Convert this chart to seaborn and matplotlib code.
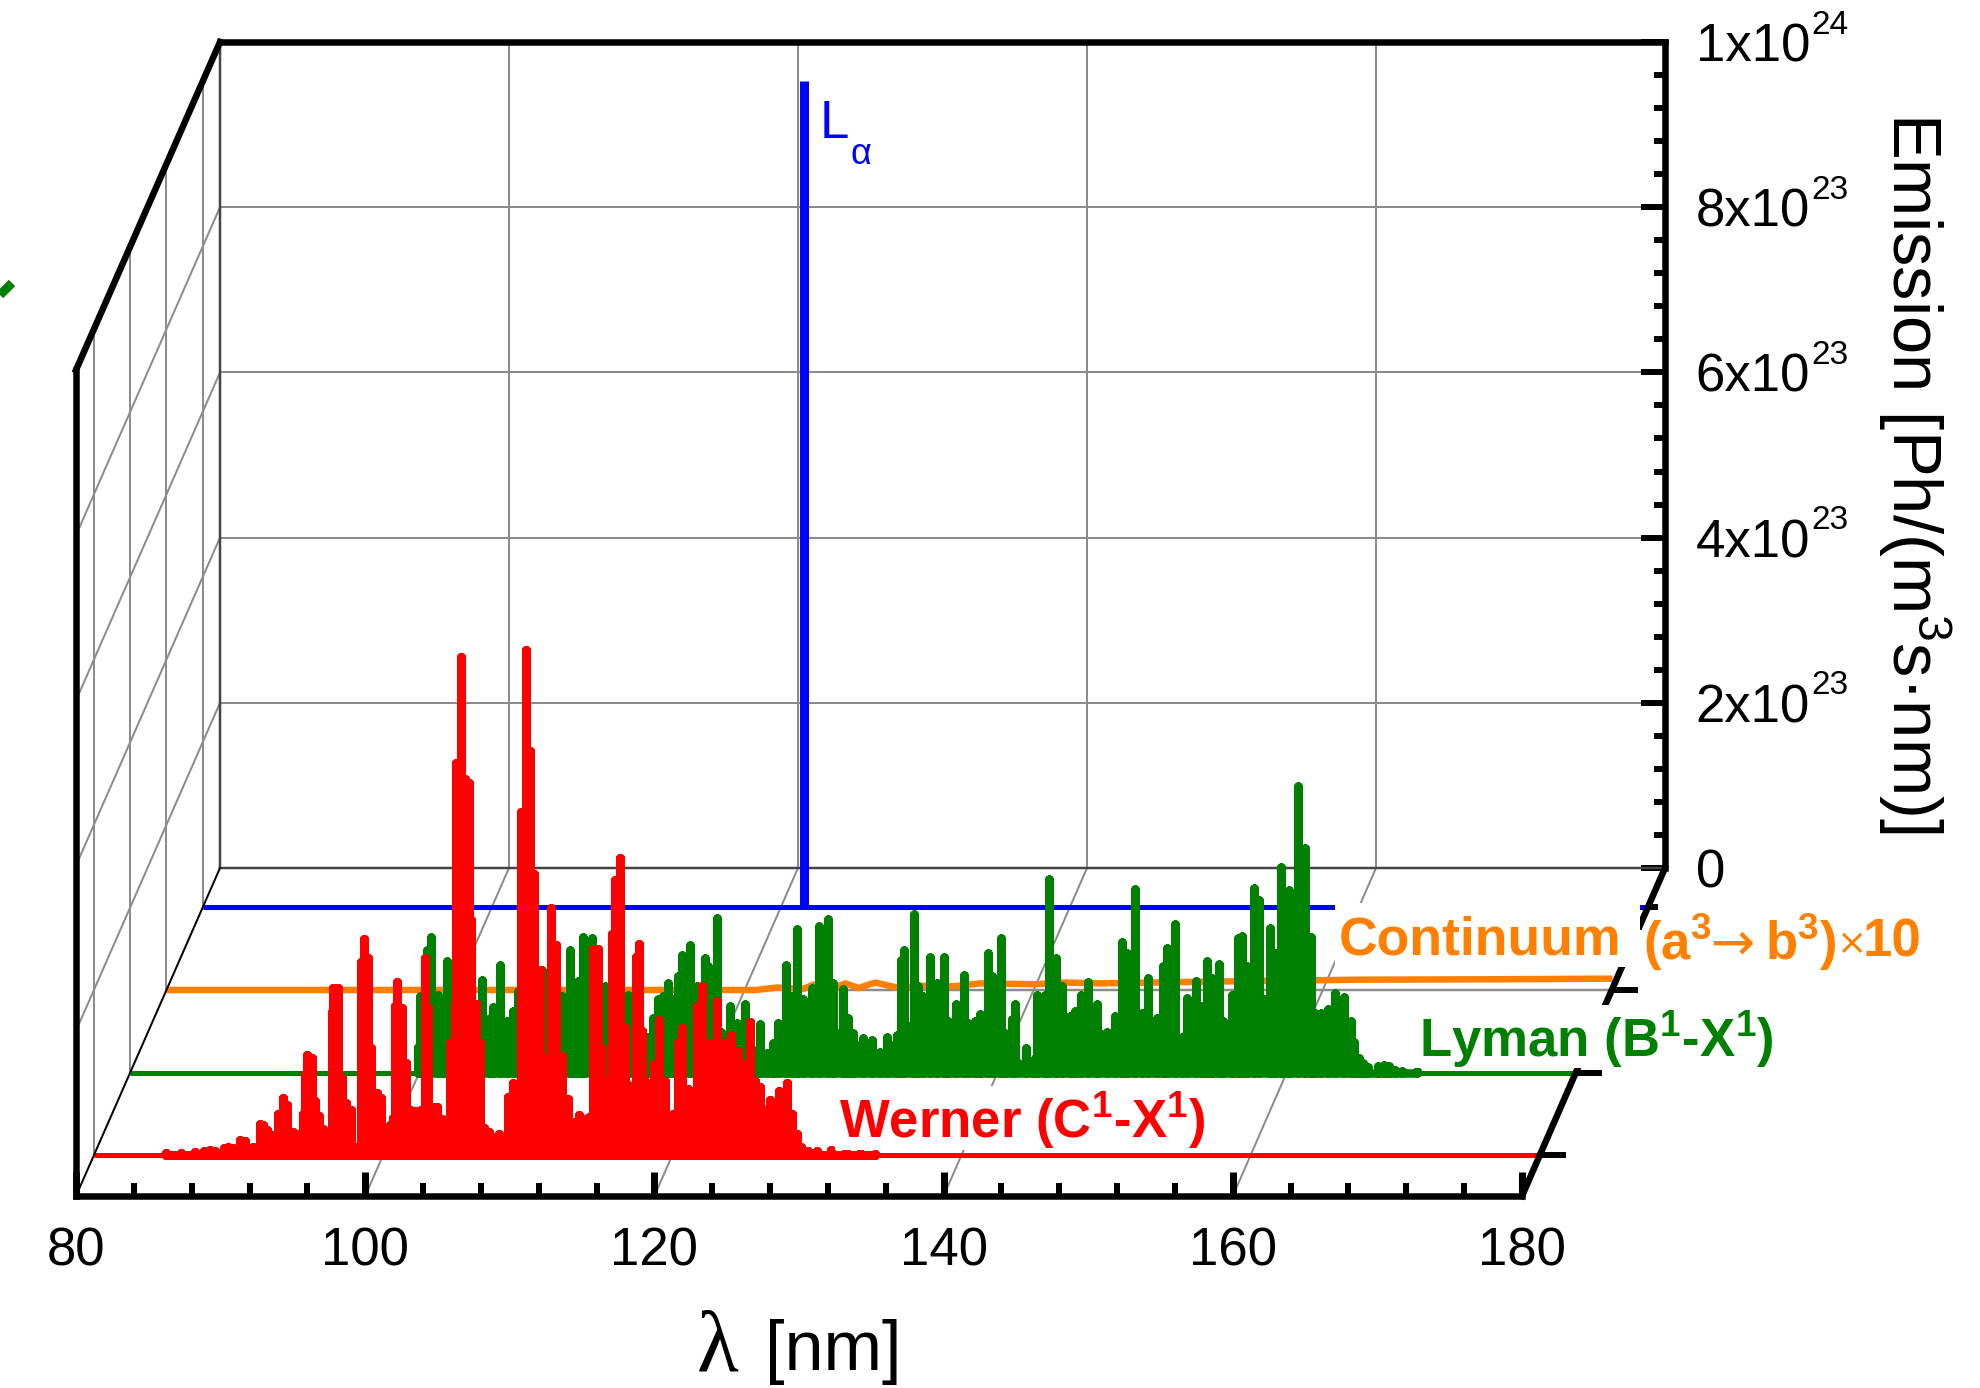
import numpy as np
import matplotlib
matplotlib.use('Agg')
import matplotlib.pyplot as plt
from matplotlib.patches import Rectangle
from matplotlib.ticker import MultipleLocator
import seaborn as sns

# data: wavelength [nm], emission [1e23 Ph/(m3 s nm)]
werner_wl = [85, 86, 87, 87.6, 88.0, 88.4, 89.0, 89.3, 89.6, 90.09, 90.44, 91.0, 91.48, 91.7, 91.94, 92.4, 92.74, 93.04,
             93.37, 93.78, 94.13, 94.47, 94.59, 94.7, 95.05, 95.28, 95.58, 95.86, 96.43, 96.55, 96.89, 97.12, 97.42, 97.75,
             98.04, 98.46, 98.67, 98.97, 99.13, 99.54, 99.82, 100.24, 100.47, 100.7, 100.81, 100.97, 101.27, 101.55, 101.85,
             102.2, 102.6, 102.89, 103.12, 103.46, 103.69, 104.1, 104.38, 104.6, 104.96, 105.06, 105.37, 105.65, 105.9, 106.1,
             106.4, 106.7, 107.0, 107.3, 107.55, 108.0, 108.25, 108.65, 108.98, 109.2, 109.55, 109.9, 110.16, 110.43, 110.83,
             111.16, 111.63, 111.97, 112.37, 112.77, 113.17, 113.51, 113.84, 114.18, 114.5, 114.85, 115.1, 115.35, 115.85,
             116.02, 116.36, 116.7, 116.96, 117.2, 117.46, 117.7, 117.87, 118.1, 118.37, 118.7, 119.1, 119.5, 119.8, 120.05,
             120.4, 120.65, 121.05, 121.4, 121.7, 122.06, 122.3, 122.7, 123.06, 123.4, 123.7, 124.07, 124.57, 124.97, 125.4,
             125.7, 126.08, 126.4, 126.75, 127.1, 127.35, 127.9, 128.26, 128.6, 128.9, 129.4, 130, 131, 132, 133, 134]
werner_h = [0.02, 0.03, 0.04, 0.05, 0.06, 0.05, 0.08, 0.1, 0.09, 0.18, 0.17, 0.1, 0.38, 0.36, 0.3, 0.24, 0.5, 0.69,
            0.6, 0.28, 0.26, 0.5, 0.98, 1.21, 1.18, 0.65, 0.47, 0.32, 1.73, 2.02, 2.02, 0.93, 0.63, 0.55,
            0.1, 2.34, 2.62, 2.38, 1.29, 0.75, 0.69, 0.15, 0.36, 0.45, 1.8, 2.1, 1.78, 1.11, 0.54,
            0.53, 0.55, 2.38, 1.78, 0.58, 0.58, 0.44, 0.34, 1.36, 1.83, 4.75, 6.03, 4.55, 4.5, 2.84,
            1.83, 1.36, 0.33, 0.28, 0.22, 0.25, 0.2, 0.7, 0.87, 0.7, 4.15, 6.11, 4.89, 3.4, 2.24,
            1.17, 2.99, 2.54, 1.2, 0.68, 0.4, 0.48, 0.3, 0.25, 2.5, 2.5, 1.3, 0.9, 2.68,
            3.33, 3.6, 1.54, 0.85, 0.65, 2.4, 2.56, 1.5, 0.9, 0.8, 1.1, 1.63, 0.9, 0.3, 0.5,
            1.35, 1.54, 0.8, 0.6, 1.8, 2.05, 1.0, 1.35, 1.86, 0.9, 1.35, 1.45, 1.26, 1.1, 1.61,
            0.9, 0.82, 0.55, 0.66, 0.55, 0.77, 0.87, 0.5, 0.26, 0.1, 0.05, 0.05, 0.06, 0.04, 0.02, 0.01]
werner_floor_wl = [100.5, 102, 104, 106, 107, 108, 109, 111, 113, 115, 117, 119, 120, 122, 124, 126, 127, 128.5]
werner_floor = [0.2, 0.45, 0.3, 0.5, 0.2, 0.1, 0.4, 0.9, 0.4, 0.6, 0.7, 0.7, 0.45, 0.6, 0.8, 0.6, 0.6, 0.3]

lyman_wl = [99.94, 100.05, 100.51, 100.81, 101.32, 101.66, 101.94, 102.36, 103.97, 104.31, 104.89, 105.12, 105.58, 106.04,
            106.5, 106.85, 108.47, 109.85, 110.43, 110.78, 111.0, 111.35, 111.93, 112.85, 114.47, 115.73, 116.19, 116.54,
            116.89, 117.23, 117.58, 117.92, 118.15, 118.73, 119.19, 119.77, 120.0, 120.57, 120.9, 121.5, 121.96, 122.53,
            123.57, 124.03, 124.49, 124.84, 125.36, 125.76, 126.15, 126.56, 127.19, 127.65, 128.29, 128.64, 129.33, 129.68,
            130.0, 130.7, 131.29, 131.87, 132.33, 133.02, 133.3, 133.55, 134.22, 134.52, 134.86, 135.32, 135.78, 136.29,
            136.59, 137.1, 137.7, 137.97, 138.44, 138.78, 139.36, 139.63, 140.23, 140.51, 140.97, 141.2, 141.97, 142.48,
            142.75, 143.28, 143.58, 144.04, 144.43, 145.0, 145.36, 145.77, 146.23, 146.86, 147.55, 148.12, 148.63, 148.93,
            149.48, 149.97, 150.43, 151.0, 151.47, 151.74, 152.3, 152.73, 153.13, 153.72, 154.12, 154.46, 154.81, 155.31,
            155.57, 156.19, 156.65, 156.93, 157.27, 157.71, 158.1, 158.87, 159.19, 159.58, 160.18, 160.74, 161.26, 161.68,
            161.95, 162.35, 162.83, 163.34, 163.98, 164.42, 164.65, 165.0, 165.3, 165.6, 166.3, 166.7, 167.1, 167.5, 168, 169]
lyman_h = [0.32, 0.93, 1.49, 1.65, 0.95, 0.89, 1.35, 1.0, 0.8, 1.13, 0.67, 0.8, 1.31, 0.63,
           0.75, 0.99, 1.25, 0.93, 1.49, 0.67, 1.11, 1.65, 1.63, 1.05, 0.95, 0.44, 0.67, 0.89,
           0.93, 1.09, 0.89, 1.17, 1.43, 1.55, 1.05, 1.39, 1.29, 1.88, 0.5, 0.81, 0.6, 0.83,
           0.59, 0.24, 0.36, 0.6, 1.31, 0.93, 1.74, 0.89, 1.03, 1.78, 1.86, 1.09, 1.02, 0.67,
           0.48, 0.42, 0.4, 0.26, 0.44, 0.46, 1.37, 1.49, 1.93, 1.05, 0.93, 1.41, 1.09, 1.41,
           0.63, 0.83, 1.19, 0.61, 0.63, 0.71, 1.45, 1.17, 1.63, 0.48, 0.65, 0.83, 0.3, 0.12,
           0.95, 0.95, 2.35, 1.39, 1.05, 0.69, 0.75, 0.95, 1.1, 0.83, 0.5, 0.69, 1.59, 1.45,
           2.23, 0.73, 1.15, 0.67, 1.29, 1.51, 1.8, 0.44, 0.91, 1.11, 0.81, 1.35, 1.15, 1.32,
           0.63, 0.95, 1.63, 1.66, 1.29, 2.24, 2.1, 1.76, 1.45, 2.49, 2.22, 3.47, 2.72, 1.65,
           0.73, 0.73, 0.77, 0.97, 0.92, 0.63, 0.38, 0.18, 0.12, 0.07, 0.08, 0.1, 0.08, 0.04, 0.03, 0.02]
lyman_floor_wl = [100, 102, 104, 106, 108, 110, 112, 114, 116, 118, 120, 122, 124, 126, 128, 130, 132, 134, 136, 138,
                  140, 142, 144, 146, 148, 150, 152, 154, 156, 158, 160, 162, 164, 165]
lyman_floor = [0.3, 0.55, 0.6, 0.55, 0.55, 0.55, 0.55, 0.4, 0.35, 0.55, 0.55, 0.45, 0.25, 0.6, 0.65, 0.42, 0.25, 0.65, 0.65,
               0.5, 0.35, 0.12, 0.65, 0.65, 0.45, 0.55, 0.4, 0.65, 0.65, 0.95, 0.95, 0.6, 0.55, 0.12]

cont_wl = [80, 100, 120.8, 122.2, 123.4, 124.0, 124.76, 125.7, 126.1, 126.96, 127.87, 129.02, 130.52, 132.13, 134.44, 136.28,
           139.97, 142.27, 144.6, 151.5, 156.1, 162.5, 172, 180]
cont_h = [0, 0, 0, 0.03, 0.02, 0.012, 0.065, 0.05, 0.024, 0.08, 0.024, 0.09, 0.03, 0.05, 0.045, 0.08,
          0.07, 0.09, 0.08, 0.1, 0.11, 0.125, 0.13, 0.137]

lyman_alpha_wl = [121.6, 121.6]
lyman_alpha_h = [0, 10]
span_wl = [80, 180]
span_h = [0, 0]

x_ticks = [80, 100, 120, 140, 160, 180]
y_ticks = [0, 2e23, 4e23, 6e23, 8e23, 1e24]
y_labels = ['0', '2x10', '4x10', '6x10', '8x10', '1x10']
y_exponents = ['', '23', '23', '23', '23', '24']

RED, GREEN, BLUE, ORANGE = '#FF0000', '#008000', '#0000FF', '#FF8000'

sns.set_theme(style='white')
plt.rcParams['font.family'] = ['Liberation Sans', 'DejaVu Sans']
plt.rcParams['mathtext.fontset'] = 'custom'
plt.rcParams['mathtext.rm'] = 'Liberation Sans'
plt.rcParams['mathtext.it'] = 'Liberation Sans'
plt.rcParams['mathtext.bf'] = 'Liberation Sans:bold'

W, H = 1981, 1388
PX = 0.72  # points per pixel at dpi 100
fig = plt.figure(figsize=(W / 100, H / 100), dpi=100, facecolor='white')

# corners of the box in pixels
FL, FR, BL, BR = 76, 1522, 220, 1665
FY, BY, TY = 1196, 868, 42
WALL_H = BY - TY
LAYER_Y = {'blue': 907, 'orange': 990, 'green': 1073, 'red': 1155}


def depth_x(y):
    return FL + (FY - y) * (BL - FL) / (FY - BY)


def pixel_axes(zorder):
    ax = fig.add_axes([0, 0, 1, 1], zorder=zorder)
    ax.set_xlim(0, W)
    ax.set_ylim(H, 0)
    ax.axis('off')
    ax.patch.set_alpha(0)
    return ax


def layer_axes(y_base, zorder):
    x0 = depth_x(y_base)
    ax = fig.add_axes([x0 / W, 1 - y_base / H, (FR - FL) / W, WALL_H / H], zorder=zorder)
    ax.set_xlim(80, 180)
    ax.set_ylim(0, 10)
    ax.axis('off')
    ax.patch.set_alpha(0)
    return ax


def draw(ax, x, y, color, lw, cap='round'):
    sns.lineplot(x=x, y=y, estimator=None, sort=False, color=color, linewidth=lw * PX, ax=ax, legend=False)
    line = ax.lines[-1]
    line.set_clip_on(False)
    line.set_solid_capstyle(cap)
    line.set_solid_joinstyle('round')


def spikes(wl, h):
    # every line goes up from the baseline and back
    xs = np.repeat(wl, 3)
    ys = np.repeat(h, 3)
    ys[0::3] = 0
    ys[2::3] = 0
    return xs, ys


# floor and left wall grid
bg = pixel_axes(0)
GRID = '#8c8c8c'
for wl in x_ticks[1:-1]:
    frac = (wl - 80) / 100
    bg.plot([FL + frac * (FR - FL), BL + frac * (BR - BL)], [FY, BY], color=GRID, lw=2 * PX)
for y in LAYER_Y.values():
    x = depth_x(y)
    bg.plot([x, x + (FR - FL)], [y, y], color=GRID, lw=2.5 * PX)
    bg.plot([x, x], [y, y - WALL_H], color=GRID, lw=2 * PX)
for k in range(1, 5):
    bg.plot([FL, BL], [FY - k * WALL_H / 5, BY - k * WALL_H / 5], color=GRID, lw=2 * PX)

# back wall, carries the emission axis
wall = fig.add_axes([BL / W, 1 - BY / H, (BR - BL) / W, WALL_H / H], zorder=1)
wall.patch.set_alpha(0)
wall.set_xlim(80, 180)
wall.set_ylim(0, 1e24)
wall.set_xticks(x_ticks)
wall.set_yticks(y_ticks)
wall.set_yticklabels(y_labels)
wall.yaxis.set_minor_locator(MultipleLocator(4e22))
wall.yaxis.tick_right()
wall.tick_params(axis='x', length=0, labelbottom=False)
wall.tick_params(axis='y', which='major', direction='in', length=24 * PX, width=6 * PX, color='black',
                 labelsize=38, pad=22, labelcolor='black')
wall.tick_params(axis='y', which='minor', direction='in', length=11 * PX, width=6 * PX, color='black')
wall.grid(True, axis='both', which='major', color=GRID, lw=2 * PX)
for name, sp in wall.spines.items():
    sp.set_color('black' if name in ('top', 'right') else '#444444')
    sp.set_linewidth(6.5 * PX if name in ('top', 'right') else 2.5 * PX)

# spectra, back to front
ax_blue = layer_axes(LAYER_Y['blue'], 2)
draw(ax_blue, span_wl, span_h, BLUE, 5, cap='butt')
draw(ax_blue, lyman_alpha_wl, lyman_alpha_h, BLUE, 9, cap='butt')

ax_orange = layer_axes(LAYER_Y['orange'], 3)
draw(ax_orange, cont_wl, cont_h, ORANGE, 6.5, cap='butt')

ax_green = layer_axes(LAYER_Y['green'], 4)
draw(ax_green, span_wl, span_h, GREEN, 5, cap='butt')
ax_green.fill_between(lyman_floor_wl, 0, lyman_floor, color=GREEN, lw=0, clip_on=False)
draw(ax_green, *spikes(lyman_wl, lyman_h), GREEN, 8.5)

ax_red = layer_axes(LAYER_Y['red'], 5)
draw(ax_red, span_wl, span_h, RED, 5, cap='butt')
ax_red.fill_between(werner_floor_wl, 0, werner_floor, color=RED, lw=0, clip_on=False)
draw(ax_red, *spikes(werner_wl, werner_h), RED, 9)

# front axis with the wavelength ticks
front = fig.add_axes([FL / W, 1 - FY / H, (FR - FL) / W, WALL_H / H], zorder=6)
front.patch.set_alpha(0)
front.set_xlim(80, 180)
front.set_ylim(0, 1)
front.set_xticks(x_ticks)
front.xaxis.set_minor_locator(MultipleLocator(4))
front.set_yticks([])
front.tick_params(axis='x', which='major', direction='in', length=24 * PX, width=7 * PX, color='black',
                  labelsize=38, pad=22, labelcolor='black', bottom=True)
front.tick_params(axis='x', which='minor', direction='in', length=13 * PX, width=6 * PX, color='black', bottom=True)
for name, sp in front.spines.items():
    sp.set_visible(name in ('bottom', 'left'))
    sp.set_color('black')
    sp.set_linewidth(6.5 * PX)

# box edges, small ticks and labels
top = pixel_axes(7)
top.plot([FL, BL], [FY - WALL_H, TY], color='black', lw=6.5 * PX, solid_capstyle='projecting')
top.plot([FL, BL], [FY, BY], color='black', lw=2 * PX)
top.plot([FR, BR], [FY, BY], color='black', lw=6.5 * PX, solid_capstyle='projecting')
for key, length in (('orange', 26), ('green', 26), ('red', 26), ('blue', 9)):
    y = LAYER_Y[key]
    x = depth_x(y) + (FR - FL)
    top.plot([x, x + length], [y, y], color='black', lw=6 * PX, solid_capstyle='butt')
top.plot([0, 12], [295, 283], color=GREEN, lw=9 * PX, solid_capstyle='butt')

for tick, exponent in zip(y_ticks, y_exponents):
    if exponent:
        top.text(1811, BY - tick / 1e24 * WALL_H - 17, exponent, fontsize=24, va='center', ha='left', color='black')

# white boxes behind the labels hide what runs under them
for x0, y0, x1, y1 in ((1335, 903, 1640, 967), (1640, 930, 1925, 968), (1415, 1005, 1780, 1068), (835, 1086, 1215, 1150)):
    top.add_patch(Rectangle((x0, y0), x1 - x0, y1 - y0, facecolor='white', edgecolor='none', zorder=2.5))

bold = dict(fontsize=38, fontweight='bold', va='center', ha='left', zorder=3)
top.text(1339, 940, 'Continuum', color=ORANGE, **{**bold, 'fontsize': 38.5})
top.text(1643, 942, r'(a$^{\mathbf{3}}$', color=ORANGE, **bold)
top.text(1711, 944, '→', color=ORANGE, family='DejaVu Sans', fontsize=38, va='center', ha='left', zorder=3)
top.text(1765, 942, r'b$^{\mathbf{3}}$)', color=ORANGE, **bold)
top.text(1836, 944, '×', color=ORANGE, family='DejaVu Sans', fontsize=26, va='center', ha='left', zorder=3)
top.text(1863, 942, '10', color=ORANGE, **bold)
top.text(1419, 1040, r'Lyman (B$^{\mathbf{1}}$-X$^{\mathbf{1}}$)', color=GREEN, **bold)
top.text(839, 1121, r'Werner (C$^{\mathbf{1}}$-X$^{\mathbf{1}}$)', color=RED, **bold)
top.text(820, 124, 'L', color=BLUE, fontsize=38, va='center', ha='left')
top.text(851, 154, 'α', color=BLUE, fontsize=26, va='center', ha='left')
top.text(1914, 473, 'Emission [Ph/(m$^{3}$s·nm)]', fontsize=49.5, rotation=270, va='center', ha='center', color='black')
top.text(697, 1350, 'λ', family='Liberation Serif', fontsize=62, va='center', ha='left', color='black')
top.text(765, 1352, '[nm]', fontsize=50.5, va='center', ha='left', color='black')

fig.savefig('out.png', dpi=100, facecolor='white')
